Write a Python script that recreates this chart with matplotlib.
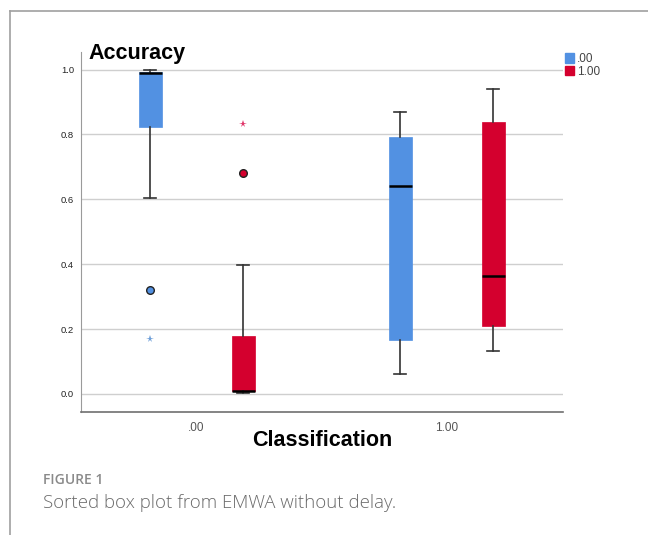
import matplotlib.pyplot as plt
from matplotlib.lines import Line2D

# box summary per classification group, one list entry per box
groups = ['.00', '1.00']
series = ['.00', '1.00']
colors = {'.00': '#5291e2', '1.00': '#d4002e'}
star_colors = {'.00': '#6f9fd8', '1.00': '#e0366a'}

# stats for (group .00, series .00), (group .00, series 1.00), (group 1.00, series .00), (group 1.00, series 1.00)
whislo = [0.604, 0.003, 0.062, 0.133]
q1 = [0.822, 0.008, 0.165, 0.209]
med = [0.990, 0.008, 0.640, 0.363]
q3 = [0.993, 0.179, 0.792, 0.837]
whishi = [0.998, 0.397, 0.868, 0.939]
outliers = [[0.321], [0.680], [], []]
extremes = [[0.170], [0.831], [], []]

plt.rcParams['font.family'] = ['Liberation Sans', 'DejaVu Sans']

fig = plt.figure(figsize=(6.48, 5.35), dpi=100)
ax = fig.add_axes([81 / 648, 1 - 412 / 535, (563 - 81) / 648, (412 - 52) / 535])

offset = 0.186
width = 0.092
stats, positions, keys = [], [], []
k = 0
for gi, g in enumerate(groups):
    for si, s in enumerate(series):
        stats.append(dict(whislo=whislo[k], q1=q1[k], med=med[k], q3=q3[k],
                          whishi=whishi[k], fliers=[]))
        positions.append(gi + (-offset if si == 0 else offset))
        keys.append(s)
        k += 1

bp = ax.bxp(stats, positions=positions, widths=width, capwidths=0.05,
            patch_artist=True, showfliers=False,
            medianprops=dict(color='black', linewidth=1.8),
            whiskerprops=dict(color='#333333', linewidth=1.2),
            capprops=dict(color='#333333', linewidth=1.2))
for patch, s in zip(bp['boxes'], keys):
    patch.set_facecolor(colors[s])
    patch.set_edgecolor(colors[s])
    patch.set_linewidth(0.5)

# outliers as circles, extremes as stars
for pos, s, o, e in zip(positions, keys, outliers, extremes):
    if o:
        ax.plot([pos] * len(o), o, 'o', ms=5.5, mfc=colors[s], mec='#222222', mew=1.0, zorder=5)
    if e:
        ax.plot([pos] * len(e), e, '*', ms=5.5, color=star_colors[s], mew=0, zorder=5)

ax.set_xlim(-0.462, 1.466)
ax.set_ylim(-0.0555, 1.054)
ax.set_yticks([0.0, 0.2, 0.4, 0.6, 0.8, 1.0])
ax.set_yticklabels(['0.0', '0.2', '0.4', '0.6', '0.8', '1.0'])
ax.set_xticks([0, 1])
ax.set_xticklabels(groups)
ax.tick_params(axis='y', length=0, pad=5, labelsize=6.8, labelcolor='#222222')
ax.tick_params(axis='x', length=0, pad=7, labelsize=8.5, labelcolor='#555555')
ax.yaxis.grid(True, color='#cfcfcf', linewidth=1.0)
ax.set_axisbelow(True)
for side in ['top', 'right']:
    ax.spines[side].set_visible(False)
ax.spines['left'].set_color('#9a9a9a')
ax.spines['bottom'].set_color('#707070')
ax.spines['bottom'].set_linewidth(1.2)

fig.text(88 / 648, 1 - 53 / 535, 'Accuracy', fontsize=15.5, fontweight='bold', va='center', ha='left')
fig.text(322 / 648, 1 - 440 / 535, 'Classification', fontsize=15.5, fontweight='bold', va='center', ha='center')

# legend
handles = [plt.Rectangle((0, 0), 1, 1, color=colors[s]) for s in series]
ax.legend(handles, series, loc='upper left', bbox_to_anchor=(565 / 648, 1 - 53 / 535),
          bbox_transform=fig.transFigure, frameon=False, fontsize=8.5,
          handlelength=0.8, handleheight=0.9, handletextpad=0.2, labelspacing=0.05,
          borderaxespad=0, borderpad=0, labelcolor='#444444')

# page frame and caption
fig.add_artist(Line2D([9.5 / 648, 1], [1 - 11 / 535] * 2, color='#a0a0a0', lw=1.2, transform=fig.transFigure))
fig.add_artist(Line2D([9.5 / 648] * 2, [0, 1 - 11 / 535], color='#a0a0a0', lw=1.2, transform=fig.transFigure))
fig.text(43 / 648, 1 - 480 / 535, 'FIGURE 1', fontsize=10, fontweight='semibold', color='#8a8a8a',
         family=['Open Sans', 'DejaVu Sans'], va='center', ha='left')
fig.text(43 / 648, 1 - 503 / 535, 'Sorted box plot from EMWA without delay.', fontsize=13.4, color='#6a6a6a',
         family=['Open Sans', 'DejaVu Sans'], va='center', ha='left', fontweight='light')

fig.savefig('out.png', dpi=100)
